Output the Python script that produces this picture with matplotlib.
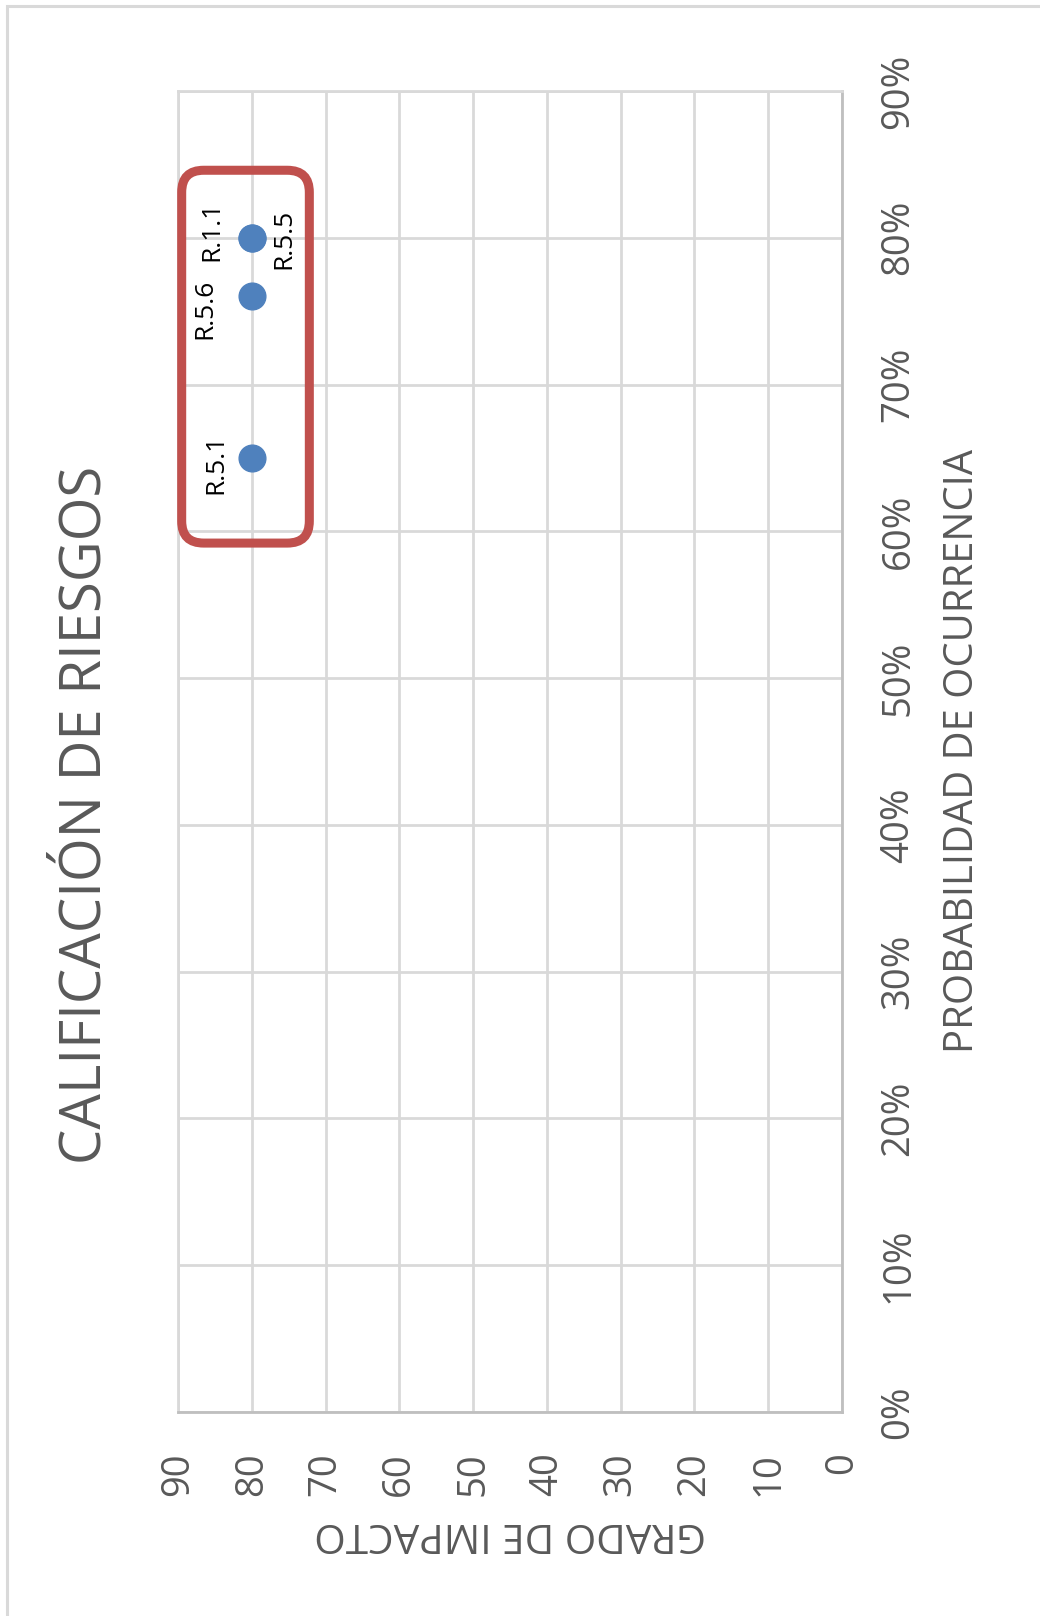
import matplotlib
matplotlib.use("Agg")
import matplotlib.pyplot as plt
from matplotlib.patches import FancyBboxPatch, Rectangle
from matplotlib.transforms import IdentityTransform

# ---------------- data ----------------
title = "CALIFICACIÓN DE RIESGOS"
x_label = "PROBABILIDAD DE OCURRENCIA"
y_label = "GRADO DE IMPACTO"

risk_ids = ["R.5.1", "R.5.6", "R.1.1", "R.5.5"]
probability = [0.65, 0.76, 0.80, 0.80]
impact = [80, 80, 80, 80]

prob_ticks = [0.0, 0.1, 0.2, 0.3, 0.4, 0.5, 0.6, 0.7, 0.8, 0.9]
prob_tick_labels = ["0%", "10%", "20%", "30%", "40%", "50%", "60%", "70%", "80%", "90%"]
impact_ticks = [0, 10, 20, 30, 40, 50, 60, 70, 80, 90]
impact_tick_labels = ["0", "10", "20", "30", "40", "50", "60", "70", "80", "90"]

# highlight box (data units: impact range, probability range)
box_impact = (72.2, 89.5)
box_prob = (0.592, 0.846)

# label offsets in points (rotated chart: left = "above")
label_offsets = {"R.5.1": (-26, -4), "R.5.6": (-34, -9), "R.1.1": (-29, 5), "R.5.5": (23, -1)}

# ---------------- style ----------------
FONT = "Open Sans"
TXT = "#595959"
GRID = "#d9d9d9"
AXIS = "#bfbfbf"
BLUE = "#4f81bd"
RED = "#c0504d"

plt.rcParams["font.family"] = [FONT, "DejaVu Sans"]

W, H = 1040, 1616
fig = plt.figure(figsize=(W / 100, H / 100), dpi=100)
fig.patch.set_facecolor("white")

# outer chart border (only top/left visible, rest cropped)
fig.patches.append(Rectangle((7, -20), 1200, H - 6 + 20, transform=IdentityTransform(),
                             fill=False, edgecolor=GRID, lw=2.2))

ax = fig.add_axes([178 / W, 1 - 1412 / H, (842 - 178) / W, (1412 - 91) / H])
ax.set_xlim(90, 0)
ax.set_ylim(0, 0.9)

ax.set_xticks(impact_ticks)
ax.set_xticklabels(impact_tick_labels)
ax.set_yticks(prob_ticks)
ax.set_yticklabels(prob_tick_labels)
ax.yaxis.tick_right()

ax.tick_params(axis="x", length=0, pad=29, labelrotation=90, labelsize=27.5, labelcolor=TXT)
ax.tick_params(axis="y", length=0, pad=27, labelrotation=90, labelsize=27.5, labelcolor=TXT)
for lab in ax.get_yticklabels():
    lab.set_va("center")
    lab.set_ha("left")

ax.grid(True, color=GRID, lw=2)
ax.set_axisbelow(True)
for side in ["top", "left"]:
    ax.spines[side].set_color(GRID)
    ax.spines[side].set_linewidth(2)
for side in ["right", "bottom"]:
    ax.spines[side].set_color(AXIS)
    ax.spines[side].set_linewidth(2)

ax.scatter(impact, probability, s=370, color=BLUE, zorder=5, clip_on=False)

for rid, p, i in zip(risk_ids, probability, impact):
    ax.annotate(rid, (i, p), xytext=label_offsets[rid], textcoords="offset points",
                rotation=90, ha="center", va="center", fontsize=19, color="black", zorder=6)

# highlight box in pixel coordinates
fig.canvas.draw()
(x0, y0) = ax.transData.transform((box_impact[1], box_prob[0]))
(x1, y1) = ax.transData.transform((box_impact[0], box_prob[1]))
rnd = 22
box = FancyBboxPatch((x0 + rnd, y0 + rnd), (x1 - x0) - 2 * rnd, (y1 - y0) - 2 * rnd,
                     boxstyle=f"round,pad={rnd},rounding_size={rnd}",
                     transform=IdentityTransform(), fill=False, edgecolor=RED, lw=6.5,
                     zorder=7)
fig.patches.append(box)

# texts
fig.text(86 / W, 1 - 815 / H, title, rotation=90, ha="center", va="center",
         fontsize=40.5, color=TXT)
fig.text(963 / W, 1 - 751 / H, x_label, rotation=90, ha="center", va="center",
         fontsize=28.8, color=TXT)
fig.text(510 / W, 1 - 1533 / H, y_label, rotation=180, ha="center", va="center",
         fontsize=29.2, color=TXT)

fig.savefig("out.png", dpi=100, facecolor="white")
